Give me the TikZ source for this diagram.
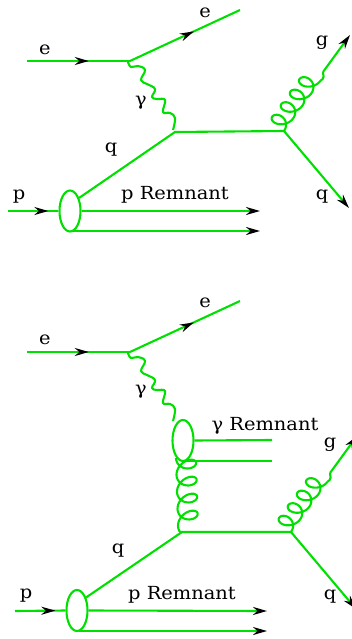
\documentclass[tikz,border=0pt]{standalone}
\usepackage{fontspec}
\setmainfont[FakeStretch=1.08]{DejaVu Serif}
\usetikzlibrary{arrows.meta,decorations.markings,shapes.geometric}
\definecolor{fg}{RGB}{0,224,0}
\newcommand{\gluonplot}[5]{% origin, angle, length, a, b : four turns
  \draw[line,line join=round,shift={(#1)},rotate=#2] plot[domain=0:1440,samples=145]
    ({\x/1440*#3+#4*sin(\x)-1.5*(1-cos(\x))},{-#5*(1-cos(\x))});}
\newcommand{\photonplot}[1]{% origin at the electron vertex
  \draw[line,line join=round,shift={(#1)}] plot[smooth,tension=0.7] coordinates
    {(0,0) (3,5) (10,4) (17,8) (13,18) (19,22) (27,27) (24,35) (29,37) (37,38) (35,50) (42,51) (47,56) (45,68)};}
\tikzset{
  x=1pt,y=-1pt,
  line/.style={draw=fg,line width=2.1pt},
  tip/.style={-{Stealth[length=14pt,width=8pt,black]}},
  mid/.style={postaction={decorate},decoration={markings,mark=at position #1 with {\arrow{Stealth[length=14pt,width=8pt,black]}}}},
  blob/.style={draw=fg,line width=2.1pt,ellipse,minimum width=21pt,minimum height=41pt,inner sep=0pt},
  lab/.style={font=\fontsize{18}{18}\selectfont,text=black,inner sep=0pt}
}
\begin{document}
\begin{tikzpicture}
\useasboundingbox (0,0) rectangle (352,639);
\clip (0,0) rectangle (352,639);
% ---- top diagram
\coordinate (ein) at (27,61);
\coordinate (ev) at (130,61);
\coordinate (eout) at (240,10);
\coordinate (ph) at (128,62);
\coordinate (qv) at (175,132);
\coordinate (gv) at (284,131);
\coordinate (gc) at (320.4,80.8);
\coordinate (gend) at (323,72);
\coordinate (gtip) at (350,35);
\coordinate (qtip) at (349,208);
\coordinate (pin) at (8,211);
\coordinate (r1) at (260,211);
\coordinate (r2) at (260,231);
\coordinate (r2s) at (72,231);
\node[blob] (pb) at (70,211) {};
\draw[line,mid=0.6] (ein) -- (ev);
\draw[line,mid=0.58] (ev) -- (eout);
\photonplot{ph}
\draw[line] (pb.55) -- (qv) -- (gv);
\gluonplot{gv}{54}{62}{8}{9}
\draw[line] (gc) .. controls +(4,-2) and +(1,3) .. (gend);
\draw[line,tip] (gend) -- (gtip);
\draw[line,tip] (gv) -- (qtip);
\draw[line,mid=0.8] (pin) -- (pb.west);
\draw[line,tip] (pb.east) -- (r1);
\draw[line,tip] (r2s) -- (r2);
\node[lab] (t1) at (45,50) {e};
\node[lab] (t2) at (205,13) {e};
\node[lab] (t3) at (141,103) {γ};
\node[lab] (t4) at (111,150) {q};
\node[lab] (t5) at (322,43) {g};
\node[lab] (t6) at (322,197) {q};
\node[lab] (t7) at (19,197) {p};
\node[lab] (t8) at (175,195) {p Remnant};
% ---- bottom diagram
\coordinate (Bein) at (27,352);
\coordinate (Bev) at (130,352);
\coordinate (Beout) at (240,301);
\coordinate (Bph) at (128,353);
\coordinate (Br1a) at (272,440);
\coordinate (Br2s) at (185,461);
\coordinate (Br2a) at (272,461);
\coordinate (Bglt) at (176,458);
\coordinate (Bgle) at (178,526);
\coordinate (Bqv) at (182,532);
\coordinate (Bgv) at (291,532);
\coordinate (Bgc) at (327.4,481.8);
\coordinate (Bgend) at (330,473);
\coordinate (Bgtip) at (357,436);
\coordinate (Bqtip) at (356,609);
\coordinate (Bpin) at (15,611);
\coordinate (Br1) at (267,611);
\coordinate (Br2) at (267,631);
\coordinate (Br2s2) at (79,631);
\node[blob] (Bgb) at (183,440.5) {};
\node[blob] (Bpb) at (77,610.5) {};
\draw[line,mid=0.6] (Bein) -- (Bev);
\draw[line,mid=0.58] (Bev) -- (Beout);
\photonplot{Bph}
\draw[line] (Bgb.east) -- (Br1a);
\draw[line] (Br2s) -- (Br2a);
\gluonplot{Bglt}{-88.3}{68}{8}{10}
\draw[line] (Bgle) .. controls +(0,3) and +(-2,2) .. (Bqv);
\draw[line] (Bpb.55) -- (Bqv) -- (Bgv);
\gluonplot{Bgv}{54}{62}{8}{9}
\draw[line] (Bgc) .. controls +(4,-2) and +(1,3) .. (Bgend);
\draw[line,tip] (Bgend) -- (Bgtip);
\draw[line,tip] (Bgv) -- (Bqtip);
\draw[line,mid=0.8] (Bpin) -- (Bpb.west);
\draw[line,tip] (Bpb.east) -- (Br1);
\draw[line,tip] (Br2s2) -- (Br2);
\node[lab] (b1) at (45,340) {e};
\node[lab] (b2) at (205,303) {e};
\node[lab] (b3) at (141,392) {γ};
\node[lab] (b4) at (118,551) {q};
\node[lab] (b5) at (330,445) {g};
\node[lab] (b6) at (330,597) {q};
\node[lab] (b7) at (26,596) {p};
\node[lab] (b8) at (182,595) {p Remnant};
\node[lab] (b9) at (265,426) {γ Remnant};
\end{tikzpicture}
\end{document}
